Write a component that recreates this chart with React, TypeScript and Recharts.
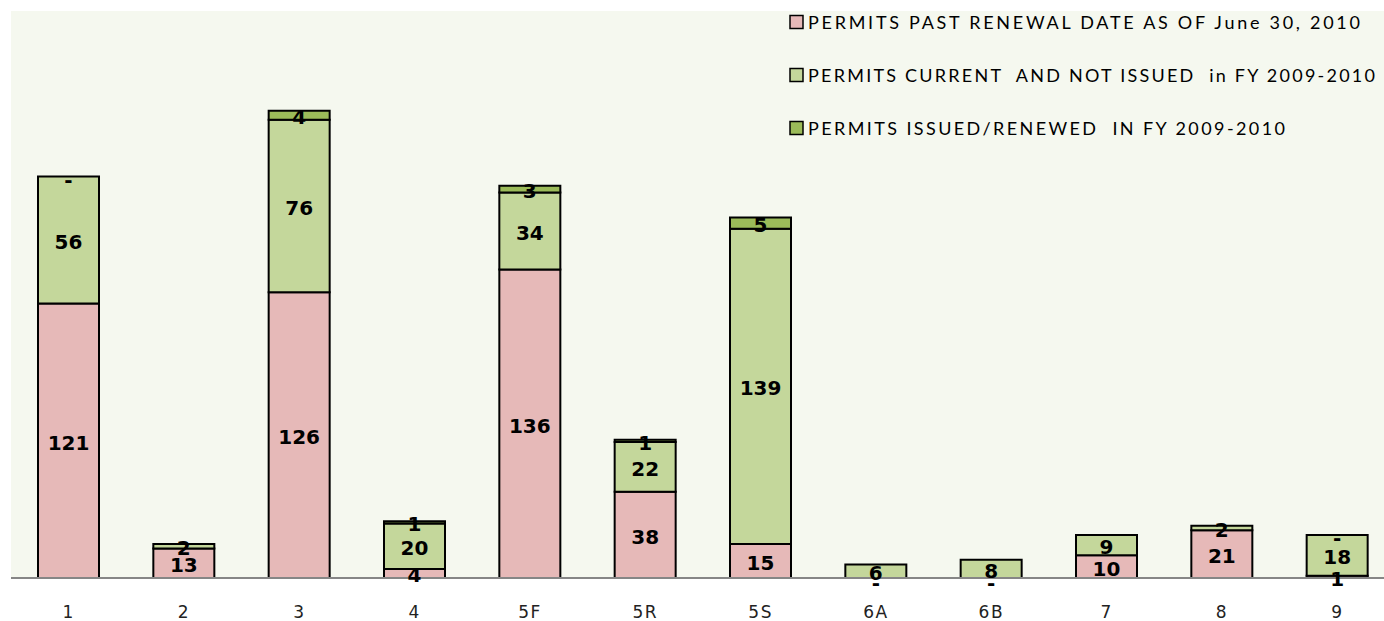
import React from "react";
import { BarChart, Bar, XAxis, YAxis, CartesianGrid, LabelList } from "recharts";

const categories = ["1", "2", "3", "4", "5F", "5R", "5S", "6A", "6B", "7", "8", "9"];
const pastRenewal: (number | null)[] = [121, 13, 126, 4, 136, 38, 15, 0, 0, 10, 21, 1];
const currentNotIssued: (number | null)[] = [56, 2, 76, 20, 34, 22, 139, 6, 8, 9, 2, 18];
const issuedRenewed: (number | null)[] = [0, null, 4, 1, 3, 1, 5, null, null, null, null, 0];

const seriesNames = [
  "PERMITS PAST RENEWAL DATE AS OF June 30, 2010",
  "PERMITS CURRENT  AND NOT ISSUED  in FY 2009-2010",
  "PERMITS ISSUED/RENEWED  IN FY 2009-2010",
];
const seriesColors = ["#E6B9B8", "#C4D79B", "#9BBB59"];
const legendWidths = [552, 567, 477];

const data = categories.map((c, i) => ({
  cat: c,
  past: pastRenewal[i],
  current: currentNotIssued[i],
  issued: issuedRenewed[i],
}));

const labelText = (key: string | number, x: number, y: number, txt: string) => (
  <text
    key={key}
    x={x}
    y={y}
    textAnchor="middle"
    dominantBaseline="central"
    fontFamily="'DejaVu Sans', Verdana, sans-serif"
    fontWeight="bold"
    fontSize={20}
    fill="#000"
  >
    {txt}
  </text>
);

const fmt = (v: any) => (v === 0 ? "-" : String(v));

const renderLabel = (props: any) => {
  const { x, y, width, height, value } = props;
  if (value === null || value === undefined) return null;
  return labelText("v", Number(x) + Number(width) / 2, Number(y) + Number(height) / 2 + 2, fmt(value));
};

// middle series label also draws the zero-valued neighbours ("-") that have no height of their own
const renderMiddleLabel = (props: any) => {
  const { x, y, width, height, value } = props;
  let idx: number = typeof props.index === "number" ? props.index : -1;
  if (idx < 0 && props.payload && props.payload.cat !== undefined) idx = categories.indexOf(props.payload.cat);
  const cx = Number(x) + Number(width) / 2;
  const top = Number(y);
  const bottom = Number(y) + Number(height);
  const items: React.ReactNode[] = [];
  if (value !== null && value !== undefined) items.push(labelText("v", cx, (top + bottom) / 2 + 2, fmt(value)));
  if (idx >= 0) {
    if (issuedRenewed[idx] === 0) items.push(labelText("i", cx, top + 3, "-"));
    if (pastRenewal[idx] === 0) items.push(labelText("p", cx, bottom + 5, "-"));
  }
  return <g>{items}</g>;
};

const LegendBox = () => (
  <svg width={600} height={150} style={{ position: "absolute", left: 780, top: 0, display: "block" }}>
    {seriesNames.map((name, i) => {
      const cy = 22 + i * 53;
      return (
        <g key={name}>
          <rect x={10} y={cy - 6.5} width={13} height={13} fill={seriesColors[i]} stroke="#000" strokeWidth={1.5} />
          <text
            x={28}
            y={cy}
            dominantBaseline="central"
            fontFamily="Lato, 'Open Sans', sans-serif"
            fontSize={18}
            fill="#000"
            textLength={legendWidths[i]}
            lengthAdjust="spacing"
            style={{ whiteSpace: "pre" }}
          >
            {name}
          </text>
        </g>
      );
    })}
  </svg>
);

export default function App() {
  return (
    <div
      style={{
        position: "fixed",
        left: 0,
        top: 0,
        width: 1384,
        height: 621,
        overflow: "hidden",
        background: "#fff",
      }}
    >
      <BarChart
        width={1400}
        height={621}
        data={data}
        margin={{ top: 11, right: 5, bottom: 0, left: 11 }}
        barSize={61}
      >
        <CartesianGrid horizontal={false} vertical={false} fill="#F5F8EF" stroke="none" />
        <XAxis
          dataKey="cat"
          height={43}
          tickLine={false}
          tickSize={0}
          tickMargin={28}
          axisLine={{ stroke: "#868686", strokeWidth: 2 }}
          tick={{ fill: "#222", fontSize: 17, fontFamily: "'DejaVu Sans', Verdana, sans-serif", letterSpacing: 1.5 }}
          interval={0}
        />
        <YAxis hide domain={[0, 250]} allowDataOverflow />
        <Bar dataKey="past" stackId="a" fill={seriesColors[0]} stroke="#000" strokeWidth={2} isAnimationActive={false}>
          <LabelList dataKey="past" content={renderLabel} />
        </Bar>
        <Bar dataKey="current" stackId="a" fill={seriesColors[1]} stroke="#000" strokeWidth={2} isAnimationActive={false}>
          <LabelList dataKey="current" content={renderMiddleLabel} />
        </Bar>
        <Bar dataKey="issued" stackId="a" fill={seriesColors[2]} stroke="#000" strokeWidth={2} isAnimationActive={false}>
          <LabelList dataKey="issued" content={renderLabel} />
        </Bar>
      </BarChart>
      <LegendBox />
    </div>
  );
}
